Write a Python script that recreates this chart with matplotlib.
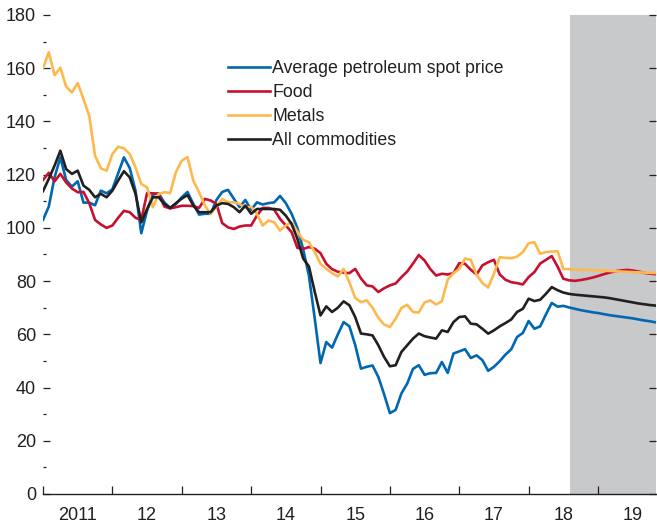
import matplotlib
matplotlib.use('Agg')
import matplotlib.pyplot as plt
from matplotlib.ticker import MultipleLocator, FixedLocator, NullFormatter
import numpy as np

plt.rcParams['font.family'] = ['Liberation Sans', 'DejaVu Sans']

# Monthly index values, Jan 2011 onward (history through mid-2018, then projections)
petroleum = [103, 108, 119, 126.5, 118, 115.5, 117.5, 109.5, 109.5, 108.5, 114, 113,
             114.5, 120.5, 126.5, 122.5, 114, 98, 106.5, 112.5, 113, 109.5, 107.5, 109,
             111.5, 113.5, 109, 105, 105.3, 105.3, 110.5, 113.5, 114.3, 111, 107.8, 110.5,
             106.8, 109.6, 108.8, 109.3, 109.6, 112, 109.3, 105.3, 100, 92, 82, 66,
             49.2, 57.1, 55, 60, 64.6, 63, 56, 47.1, 47.8, 48.3, 44, 37.5,
             30.4, 31.6, 37.8, 41.5, 47, 48.4, 44.8, 45.4, 45.5, 49.6, 45.5, 52.8,
             53.6, 54.4, 51.1, 52.1, 50.3, 46.3, 47.8, 49.9, 52.4, 54.4, 59, 60.5,
             65, 62.1, 63, 67.5, 71.8, 70.4, 70.7, 70.1, 69.6, 69.1, 68.7, 68.3,
             68.0, 67.6, 67.2, 66.9, 66.6, 66.3, 66.0, 65.6, 65.2, 64.9, 64.5, 64.2]

food = [118, 120.7, 117.5, 120.3, 117.1, 114.8, 113.4, 113.5, 109.3, 103, 101.3, 100,
        100.9, 103.8, 106.4, 105.9, 103.8, 103, 113.1, 113, 112.8, 108, 107.3, 107.8,
        108.3, 108.3, 108.2, 107.5, 110.9, 110.3, 109, 101.8, 100.2, 99.6, 100.5, 100.9,
        100.9, 104.6, 107.5, 107.5, 106.8, 103.4, 100.9, 98.4, 92.5, 92.1, 92.8, 92.2,
        90.5, 86.5, 84.5, 83.5, 83.2, 83, 84.6, 81, 78.4, 78, 75.9, 77.3,
        78.4, 79.1, 81.5, 83.6, 86.6, 89.8, 87.75, 84.5, 82.1, 82.75, 82.5, 83,
        86.75, 86.5, 84.25, 82.5, 85.9, 87.1, 88, 82.5, 80.5, 79.6, 79.25, 78.75,
        81.5, 83.4, 86.6, 88, 89.4, 85.5, 80.9, 80.3, 80.1, 80.4, 80.8, 81.3,
        81.9, 82.6, 83.2, 83.7, 84.0, 84.2, 84.0, 83.6, 83.1, 82.8, 82.6, 82.4]

metals = [160, 166, 157.4, 160.2, 153.1, 150.9, 154.4, 148.4, 142.1, 127.1, 122.4, 121.5,
          127.75, 130.5, 129.9, 127.75, 122.75, 116.5, 115.25, 107.75, 112.75, 113.4, 113.1, 121,
          125.25, 126.6, 117.75, 113.4, 108.4, 105.25, 108, 110.9, 109.6, 109.6, 109, 107.5,
          108, 105.25, 100.9, 102.75, 102.1, 99, 100.9, 102.1, 98.6, 95.5, 94.6, 90.9,
          86.5, 84.6, 83, 81.75, 84.6, 79.5, 73.7, 72.1, 72.75, 70, 66.2, 63.7,
          62.75, 65.9, 69.9, 71.1, 68.4, 68.2, 72, 72.75, 71.2, 72.4, 80.5, 83,
          84.5, 88.5, 88, 82.4, 79.3, 77.6, 82.8, 89, 88.75, 88.6, 89.2, 90.9,
          94.25, 94.6, 90.25, 90.9, 91.1, 91.25, 84.6, 84.5, 84.4, 84.3, 84.2, 84.1,
          84.0, 83.9, 83.8, 83.7, 83.6, 83.5, 83.4, 83.3, 83.2, 83.1, 83.0, 82.9]

all_commodities = [113.8, 118.4, 123.4, 129, 122.1, 120.3, 121.5, 115.9, 114.3, 111.5, 112.8, 111.5,
                   114, 117.8, 121.3, 119, 112.8, 102.1, 107.1, 111.5, 111.5, 109, 107.5, 109.3,
                   111, 112.3, 108.4, 105.9, 105.9, 105.9, 108.4, 109.3, 109, 107.8, 105.9, 108.4,
                   105.3, 107.1, 107.1, 107.1, 107.1, 106.8, 104.6, 101.5, 95.9, 88.5, 85.5, 76,
                   67.1, 70.5, 68.4, 70, 72.4, 70.9, 66.5, 60.3, 60, 59.6, 55.9, 51.5,
                   48, 48.4, 53.4, 55.9, 58.4, 60.3, 59.3, 58.8, 58.4, 61.5, 60.9, 64.6,
                   66.5, 66.75, 64, 63.75, 62.1, 60.25, 61.5, 63, 64.25, 65.6, 68.4, 69.6,
                   73.4, 72.5, 73, 75.25, 77.75, 76.6, 75.7, 75.2, 74.9, 74.7, 74.5, 74.3,
                   74.1, 73.9, 73.6, 73.2, 72.8, 72.4, 72.0, 71.6, 71.3, 71.0, 70.8, 70.6]

labels = ['Average petroleum spot price', 'Food', 'Metals', 'All commodities']
colors = ['#0067b1', '#c8102e', '#fdb94e', '#231f20']
year_labels = ['2011', '12', '13', '14', '15', '16', '17', '18', '19']
projection_start = 2018.59

x = 2011 + np.arange(len(petroleum)) / 12.0
text_color = '#231f20'

fig = plt.figure(figsize=(6.57, 5.24), dpi=100)
ax = fig.add_axes([43 / 657, 30 / 524, 613 / 657, 479 / 524])

ax.axvspan(projection_start, 2030, color='#c8c9cb', lw=0, zorder=0)

for series, label, color in zip([petroleum, food, metals, all_commodities], labels, colors):
    ax.plot(x, series, color=color, lw=1.9, label=label, zorder=3)

ax.set_xlim(2011, 2019.836)
ax.set_ylim(0, 180)

# y axis: labelled majors, unlabelled minors, ticks point inward
ax.yaxis.set_major_locator(MultipleLocator(20))
ax.yaxis.set_minor_locator(MultipleLocator(10))
ax.tick_params(axis='y', which='major', direction='in', length=5, width=0.9,
               labelsize=13, pad=5, colors=text_color, right=True)
ax.tick_params(axis='y', which='minor', direction='in', length=2.5, width=0.9,
               colors=text_color, right=False)

# x axis: ticks at year boundaries, labels centred in each year
ax.xaxis.set_major_locator(FixedLocator(np.arange(2011, 2020)))
ax.xaxis.set_major_formatter(NullFormatter())
ax.xaxis.set_minor_locator(FixedLocator(np.arange(2011, 2020) + 0.5))
ax.set_xticklabels(year_labels, minor=True)
ax.tick_params(axis='x', which='major', direction='in', length=5.5, width=0.9, colors=text_color)
ax.tick_params(axis='x', which='minor', length=0, labelsize=13, pad=9, colors=text_color)

for side in ['left', 'right', 'top']:
    ax.spines[side].set_visible(False)
ax.spines['bottom'].set_linewidth(1.0)
ax.spines['bottom'].set_color(text_color)

leg = ax.legend(loc='upper left', bbox_to_anchor=((228 - 43) / 613, (494 - 60) / 479),
                frameon=False, fontsize=12.8, handlelength=2.35, handletextpad=0.15,
                labelspacing=0.4, borderpad=0, borderaxespad=0)
for t in leg.get_texts():
    t.set_color(text_color)

plt.savefig('out.png', dpi=100)
plt.close()
